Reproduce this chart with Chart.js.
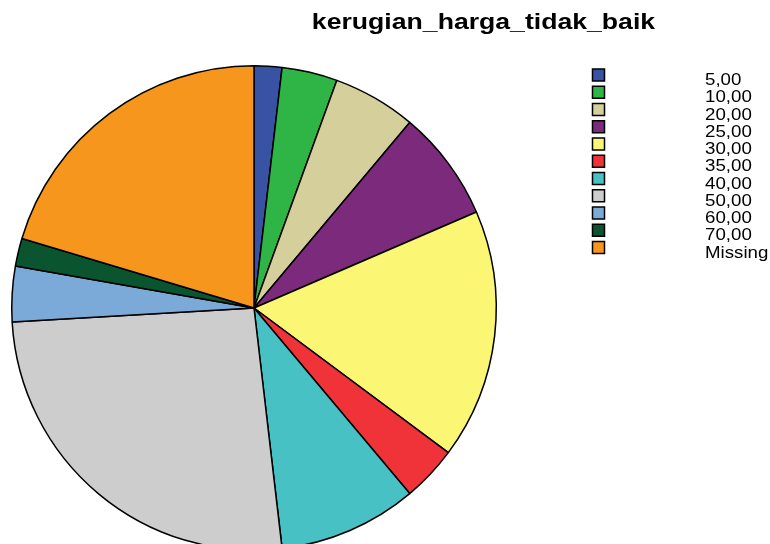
<!DOCTYPE html>
<html>
<head>
    <title>kerugian_harga_tidak_baik</title>
    <script src="https://cdn.jsdelivr.net/npm/chart.js"></script>
    <style>
        body { margin: 0; overflow: hidden; background: #fff; }
        #wrap { position: relative; width: 770px; height: 560px; }
    </style>
</head>
<body>
    <div id="wrap">
        <canvas id="chart"></canvas>
    </div>

    <script>
        // Data
        const chartTitle = 'kerugian_harga_tidak_baik';
        const categories = ['5,00', '10,00', '20,00', '25,00', '30,00', '35,00', '40,00', '50,00', '60,00', '70,00', 'Missing'];
        const counts = [1, 2, 3, 4, 9, 2, 5, 14, 2, 1, 11];
        const sliceColors = ['#3953a4', '#2fb546', '#d4cf9b', '#7b2a7c', '#fbf674', '#ef3338', '#48c1c5', '#cdcdcd', '#7baad8', '#0a5530', '#f7961d'];

        // draw text a bit wider than normal (the original output is stretched)
        function wideText(ctx, text, x, y, sx) {
            ctx.save();
            ctx.translate(x, y);
            ctx.scale(sx, 1);
            ctx.fillText(text, 0, 0);
            ctx.restore();
        }

        // Title + SPSS-style legend drawn on the canvas
        const sideTextPlugin = {
            id: 'sideText',
            afterDraw(chart) {
                const ctx = chart.ctx;
                ctx.save();
                ctx.fillStyle = '#000';
                ctx.font = 'bold 22px "Liberation Sans", Arial, sans-serif';
                ctx.textAlign = 'center';
                ctx.textBaseline = 'alphabetic';
                wideText(ctx, chartTitle, 483.5, 29, 1.21);

                ctx.font = '17px "Liberation Sans", Arial, sans-serif';
                ctx.textAlign = 'left';
                const labels = chart.data.labels;
                const colors = chart.data.datasets[0].backgroundColor;
                labels.forEach((lab, i) => {
                    const top = 69 + i * 17.25;
                    ctx.fillStyle = colors[i];
                    ctx.fillRect(592.5, top, 12, 12);
                    ctx.strokeStyle = '#000';
                    ctx.lineWidth = 1.5;
                    ctx.strokeRect(592.5, top, 12, 12);
                    ctx.fillStyle = '#000';
                    wideText(ctx, lab, 705, top + 16, 1.1);
                });
                ctx.restore();
            }
        };

        const ctx = document.getElementById('chart').getContext('2d');
        const myChart = new Chart(ctx, {
            type: 'pie',
            data: {
                labels: categories,
                datasets: [{
                    data: counts,
                    backgroundColor: sliceColors,
                    borderColor: '#000',
                    borderWidth: 1.5
                }]
            },
            options: {
                responsive: true,
                maintainAspectRatio: false,
                animation: false,
                layout: {
                    padding: { left: 11, right: 273, top: 65, bottom: 9 }
                },
                plugins: {
                    legend: { display: false },
                    title: { display: false },
                    tooltip: { enabled: false }
                }
            },
            plugins: [sideTextPlugin]
        });
    </script>
</body>
</html>
